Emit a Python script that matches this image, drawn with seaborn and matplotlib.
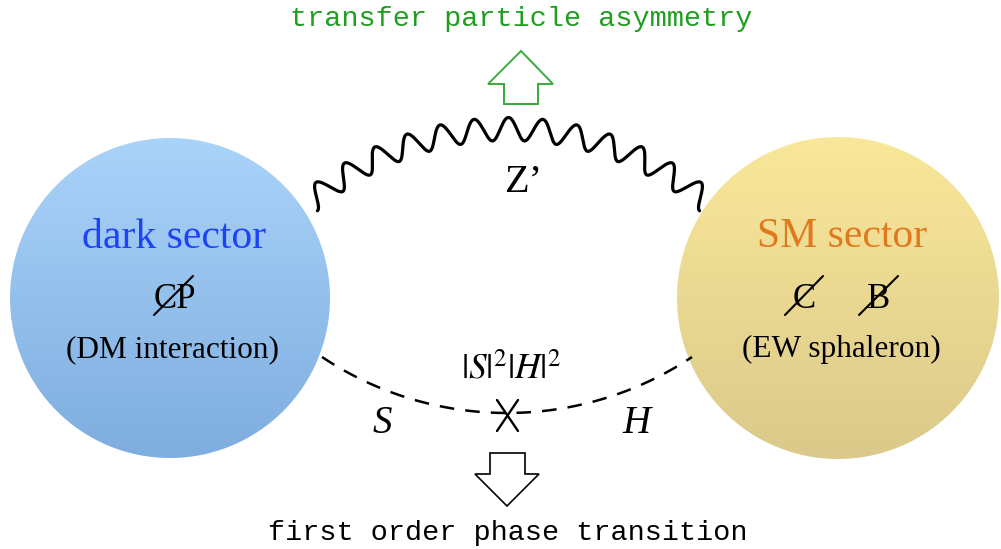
import numpy as np
import matplotlib
matplotlib.use('Agg')
import matplotlib.pyplot as plt
import seaborn as sns
from matplotlib.colors import LinearSegmentedColormap
from matplotlib.patches import Circle, Polygon

# labels of the diagram
sectors = ['dark sector', 'SM sector']
sector_notes = ['(DM interaction)', '(EW sphaleron)']
broken_dark = ['CP']
broken_sm = ['C', 'B']
mediator = 'Z\u2019'
portal = r'$|S|^2|H|^2$'
scalars = ['S', 'H']
top_label = 'transfer particle asymmetry'
bottom_label = 'first order phase transition'

sns.set_style('white')
plt.rcParams['font.family'] = ['Liberation Serif', 'DejaVu Serif']
plt.rcParams['mathtext.fontset'] = 'stix'
plt.rcParams['text.color'] = 'black'

W, H = 1001, 549
fig = plt.figure(figsize=(W / 100, H / 100), dpi=100)
ax = fig.add_axes([0, 0, 1, 1])


def gradient_disc(cx, cy, r, top, bottom):
    cmap = LinearSegmentedColormap.from_list('g', [top, bottom])
    grad = np.linspace(0, 1, 256).reshape(-1, 1)
    im = ax.imshow(grad, cmap=cmap, extent=(cx - r, cx + r, cy + r, cy - r),
                   aspect='auto', zorder=1, origin='upper')
    disc = Circle((cx, cy), r, facecolor='none', edgecolor='none')
    ax.add_patch(disc)
    im.set_clip_path(disc)


# sector blobs
gradient_disc(170, 298, 160, '#aad3f9', '#7eaddf')
gradient_disc(838, 298, 161, '#f9e899', '#dbc98b')

# wavy Z' line along an arc
half, sag = 198.5, 73
R = (half ** 2 + sag ** 2) / (2 * sag)
cx, cy = 508.5, 129 + R
th = np.arcsin(half / R)
t = np.linspace(0, 1, 2000)
phi = -th + 2 * th * t
amp = 11.5
off = -amp * np.cos(2 * np.pi * 13 * t)
wx = cx + (R + off) * np.sin(phi)
wy = cy - (R + off) * np.cos(phi)
sns.lineplot(x=wx, y=wy, sort=False, estimator=None, color='black', lw=2.3, ax=ax, zorder=3)

# dashed scalar line
half2, sag2 = 185, 56
R2 = (half2 ** 2 + sag2 ** 2) / (2 * sag2)
cx2, cy2 = 507, 413 - R2
th2 = np.arcsin(half2 / R2)
phi2 = np.linspace(-th2, th2, 400)
dx = cx2 + R2 * np.sin(phi2)
dy = cy2 + R2 * np.cos(phi2)
lw = 1.8
sns.lineplot(x=dx, y=dy, sort=False, estimator=None, color='black', lw=lw,
             linestyle=(0, (10.5 / lw, 8 / lw)), ax=ax, zorder=3)

# vertex cross
ax.plot([497, 518], [400, 431], color='black', lw=1.7, zorder=4)
ax.plot([518, 497], [400, 431], color='black', lw=1.7, zorder=4)

# sector texts
ax.text(174, 248, sectors[0], color='#1d42f8', fontsize=30, ha='center', va='baseline', zorder=5)
ax.text(842, 247, sectors[1], color='#e0781e', fontsize=30, ha='center', va='baseline', zorder=5)
ax.text(172, 357, sector_notes[0], color='black', fontsize=22.5, ha='center', va='baseline', zorder=5)
ax.text(841, 357, sector_notes[1], color='black', fontsize=22.5, ha='center', va='baseline', zorder=5)

# broken symmetries with slashes
ax.text(175, 308, broken_dark[0], fontsize=25, ha='center', va='baseline', zorder=5)
ax.plot([154, 193], [315, 276], color='black', lw=1.5, zorder=5)
ax.text(804, 308, broken_sm[0], fontsize=25, ha='center', va='baseline', zorder=5)
ax.plot([785, 823], [315, 276], color='black', lw=1.5, zorder=5)
ax.text(879, 308, broken_sm[1], fontsize=25, ha='center', va='baseline', zorder=5)
ax.plot([859, 898], [315, 276], color='black', lw=1.5, zorder=5)

# particle labels
ax.text(523, 192, mediator, fontsize=29, ha='center', va='baseline', zorder=5)
ax.text(511, 379, portal, fontsize=25.5, ha='center', va='baseline', zorder=5)
ax.text(382, 433, scalars[0], fontsize=28, style='italic', ha='center', va='baseline', zorder=5)
ax.text(636, 433, scalars[1], fontsize=28, style='italic', ha='center', va='baseline', zorder=5)

# arrows
up = [(521, 51), (553, 84), (538, 84), (538, 104), (504, 104), (504, 84), (488, 84)]
ax.add_patch(Polygon(up, closed=True, facecolor='white', edgecolor='#3aaa3a', lw=1.4, zorder=5))
down = [(490, 453), (525, 453), (525, 474), (539, 474), (507, 506), (475, 474), (490, 474)]
ax.add_patch(Polygon(down, closed=True, facecolor='white', edgecolor='black', lw=1.2, zorder=5))

# top / bottom captions
ax.text(521, 26, top_label, family='Liberation Mono', color='#1f9e1f', fontsize=20.5,
        ha='center', va='baseline', zorder=5)
ax.text(508, 540, bottom_label, family='Liberation Mono', color='black', fontsize=20.5,
        ha='center', va='baseline', zorder=5)

ax.set_xlim(0, W)
ax.set_ylim(H, 0)
ax.axis('off')
fig.savefig('out.png', dpi=100)
